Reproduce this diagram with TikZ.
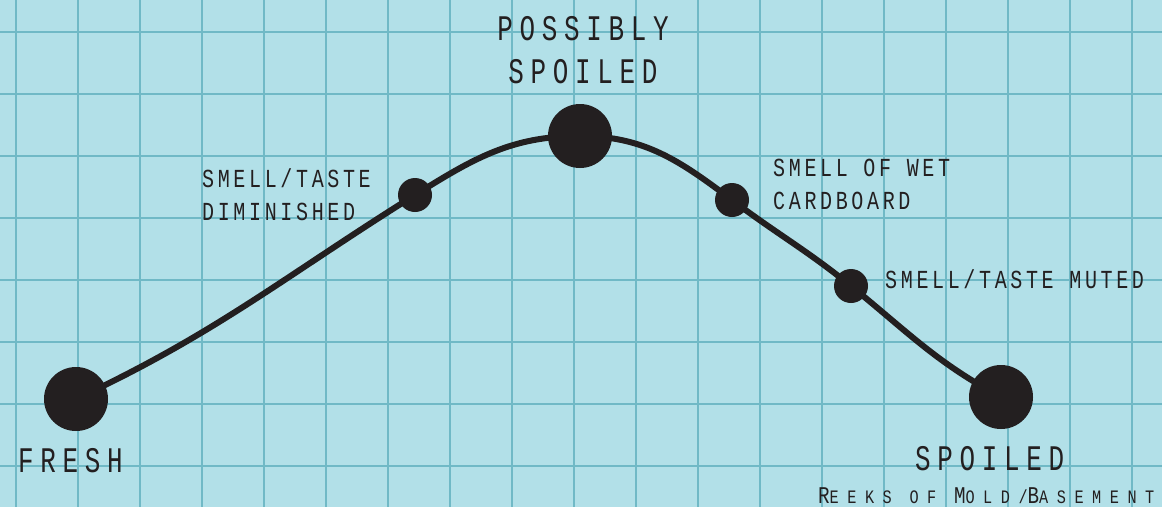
\documentclass[tikz,border=0pt]{standalone}
\usepackage{fontspec}
\usepackage{tikz}
\usetikzlibrary{positioning}
\newfontfamily\titlefont[FakeStretch=0.72,LetterSpace=18.6]{Liberation Mono}
\newfontfamily\notefont[FakeStretch=0.77,LetterSpace=14]{Liberation Mono}
\newfontfamily\reekfont[FakeStretch=0.8,LetterSpace=45]{Liberation Mono}
\newcommand{\reekcap}[1]{{\fontsize{24}{24}\selectfont #1}}
\definecolor{paper}{RGB}{178,224,232}
\definecolor{gridline}{RGB}{112,185,198}
\definecolor{ink}{RGB}{35,31,32}

\begin{document}
\begin{tikzpicture}[
  x=1pt, y=1pt,
  dot/.style={circle, fill=ink, inner sep=0, minimum size=#1},
  title/.style={font=\titlefont\fontsize{36}{43}\selectfont, text=ink, inner sep=0, align=center},
  note/.style={font=\notefont\fontsize{26}{33}\selectfont, text=ink, inner sep=0, align=left},
  reek/.style={font=\reekfont\fontsize{19}{19}\selectfont, text=ink, inner sep=0},
  curve/.style={line width=6pt, ink}
]
  % Paper
  \fill[paper] (0,0) rectangle (1162,-507);
  \useasboundingbox (0,0) rectangle (1162,-507);
  \foreach \x in {16,78,...,1140} \draw[gridline, line width=2pt] (\x,0) -- (\x,-507);
  \foreach \y in {32,94,...,500} \draw[gridline, line width=2pt] (0,-\y) -- (1162,-\y);

  % Stages
  \node[dot=64] (fresh) at (76,-399) {};
  \node[dot=34] (dim) at (415,-195) {};
  \node[dot=64] (peak) at (580,-136) {};
  \node[dot=34] (wet) at (732,-200) {};
  \node[dot=34] (muted) at (851,-286) {};
  \node[dot=64] (spoiled) at (1001,-397) {};

  % Curve
  \draw[curve] (fresh.center) to[out=25, in=-148] (dim.center)
    to[out=32, in=180] (peak.center)
    to[out=0, in=143] (wet.center)
    to[out=-37, in=141] (muted.center)
    to[out=-39, in=152] (spoiled.center);

  % Labels
  \node[title, anchor=base west] (freshlbl) at (18,-472) {FRESH};
  \node[title, anchor=base] (peaklbl) at (583,-83) {POSSIBLY\\SPOILED};
  \node[title, anchor=base west] (spoiledlbl) at (915,-470) {SPOILED};
  \node[note, anchor=base west] (dimlbl) at (202,-220) {SMELL/TASTE\\DIMINISHED};
  \node[note, anchor=base west] (wetlbl) at (773,-209) {SMELL OF WET\\CARDBOARD};
  \node[note, anchor=base west] (mutedlbl) at (885,-288) {SMELL/TASTE MUTED};
  \node[reek, anchor=base west] (reeklbl) at (818,-503) {\reekcap{R}EEKS OF \reekcap{M}OLD/\reekcap{B}ASEMENT};
\end{tikzpicture}
\end{document}
